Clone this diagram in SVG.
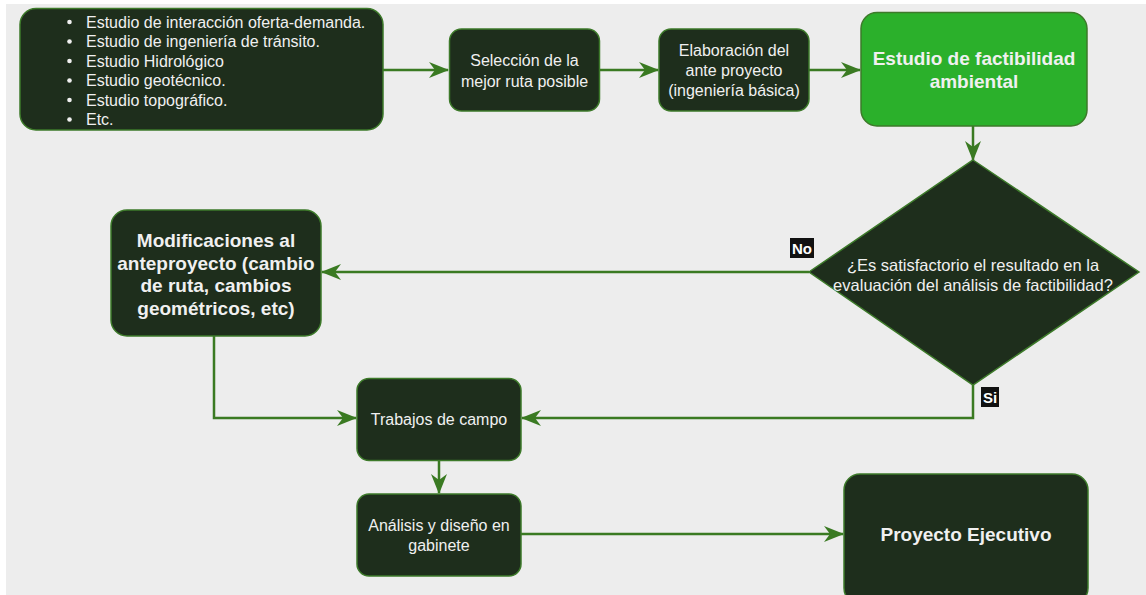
<svg xmlns="http://www.w3.org/2000/svg" width="1146" height="595" viewBox="0 0 1146 595">
<defs>
<style>
.n{fill:#1e2e1c;stroke:#3d7a2a;stroke-width:1.5}
.g{fill:#2bb02b;stroke:#3d7a2a;stroke-width:1.5}
.t{font-family:"Liberation Sans",Arial,sans-serif;font-size:16px;fill:#f0f0f0;text-anchor:middle}
.l{font-family:"Liberation Sans",Arial,sans-serif;font-size:16px;fill:#f0f0f0}
.b{font-family:"Liberation Sans",Arial,sans-serif;font-size:19px;font-weight:bold;fill:#f0f0f0;text-anchor:middle}
.c{fill:none;stroke:#3a7a22;stroke-width:2.5}
.lb{font-family:"Liberation Sans",Arial,sans-serif;font-size:15px;font-weight:bold;fill:#ffffff}
</style>
<marker id="ah" viewBox="0 0 20 16" refX="19" refY="8" markerWidth="20" markerHeight="16" markerUnits="userSpaceOnUse" orient="auto">
<path d="M0,0 L20,8 L0,16 L6,8 Z" fill="#3a7a22"/>
</marker>
</defs>
<rect x="0" y="0" width="1146" height="595" fill="#ffffff"/>
<rect x="6" y="4" width="1140" height="591" fill="#ededed"/>

<g id="connectors">
<path class="c" d="M383,70 H448" marker-end="url(#ah)"/>
<path class="c" d="M599,70 H658" marker-end="url(#ah)"/>
<path class="c" d="M809,70 H860" marker-end="url(#ah)"/>
<path class="c" d="M973,126 V160" marker-end="url(#ah)"/>
<path class="c" d="M809,272 H322" marker-end="url(#ah)"/>
<path class="c" d="M973,385 V418 H522" marker-end="url(#ah)"/>
<path class="c" d="M214,336 V418 H356" marker-end="url(#ah)"/>
<path class="c" d="M439,460 V493" marker-end="url(#ah)"/>
<path class="c" d="M521,534 H843" marker-end="url(#ah)"/>
<g id="label-no">
<rect x="790" y="238" width="24" height="20" fill="#111111"/>
<text class="lb" x="802" y="253.5" text-anchor="middle">No</text>
</g>
<g id="label-si">
<rect x="981" y="387" width="18" height="20" fill="#111111"/>
<text class="lb" x="990" y="402.5" text-anchor="middle">Si</text>
</g>
</g>

<g id="estudios">
<rect class="n" x="20" y="8.5" width="363" height="121.5" rx="16"/>
<g class="l">
<circle cx="69.5" cy="22" r="2.3" fill="#f0f0f0"/>
<text x="86" y="27.5">Estudio de interacción oferta-demanda.</text>
<circle cx="69.5" cy="41.5" r="2.3" fill="#f0f0f0"/>
<text x="86" y="47">Estudio de ingeniería de tránsito.</text>
<circle cx="69.5" cy="61" r="2.3" fill="#f0f0f0"/>
<text x="86" y="66.5">Estudio Hidrológico</text>
<circle cx="69.5" cy="80.5" r="2.3" fill="#f0f0f0"/>
<text x="86" y="86">Estudio geotécnico.</text>
<circle cx="69.5" cy="100" r="2.3" fill="#f0f0f0"/>
<text x="86" y="105.5">Estudio topográfico.</text>
<circle cx="69.5" cy="119.5" r="2.3" fill="#f0f0f0"/>
<text x="86" y="125">Etc.</text>
</g>
</g>

<g id="seleccion">
<rect class="n" x="449.5" y="29" width="150" height="82" rx="12"/>
<text class="t" x="524.5" y="65.5">Selección de la</text>
<text class="t" x="524.5" y="86.5">mejor ruta posible</text>
</g>

<g id="elaboracion">
<rect class="n" x="659" y="29" width="150" height="82" rx="12"/>
<text class="t" x="734" y="56">Elaboración del</text>
<text class="t" x="734" y="76">ante proyecto</text>
<text class="t" x="734" y="96">(ingeniería básica)</text>
</g>

<g id="factibilidad">
<rect class="g" x="861" y="12.5" width="226" height="113.5" rx="16"/>
<text class="b" x="974" y="65">Estudio de factibilidad</text>
<text class="b" x="974" y="88">ambiental</text>
</g>

<g id="decision">
<path class="n" d="M973,160 L1139,272 L973,385 L809,272 Z"/>
<text class="t" x="973" y="270.5" style="font-size:16.5px">¿Es satisfactorio el resultado en la</text>
<text class="t" x="973" y="290.5" style="font-size:16.5px">evaluación del análisis de factibilidad?</text>
</g>

<g id="modificaciones">
<rect class="n" x="111" y="210" width="210" height="126" rx="16"/>
<text class="b" x="216" y="247">Modificaciones al</text>
<text class="b" x="216" y="270">anteproyecto (cambio</text>
<text class="b" x="216" y="292">de ruta, cambios</text>
<text class="b" x="216" y="315">geométricos, etc)</text>
</g>

<g id="trabajos">
<rect class="n" x="357" y="378.5" width="164" height="82" rx="12"/>
<text class="t" x="439" y="424.5">Trabajos de campo</text>
</g>

<g id="analisis">
<rect class="n" x="357" y="494" width="164" height="82" rx="12"/>
<text class="t" x="439" y="530.5">Análisis y diseño en</text>
<text class="t" x="439" y="550.5">gabinete</text>
</g>

<g id="proyecto">
<rect class="n" x="844" y="474" width="244" height="130" rx="16"/>
<text class="b" x="966" y="541">Proyecto Ejecutivo</text>
</g>
</svg>
